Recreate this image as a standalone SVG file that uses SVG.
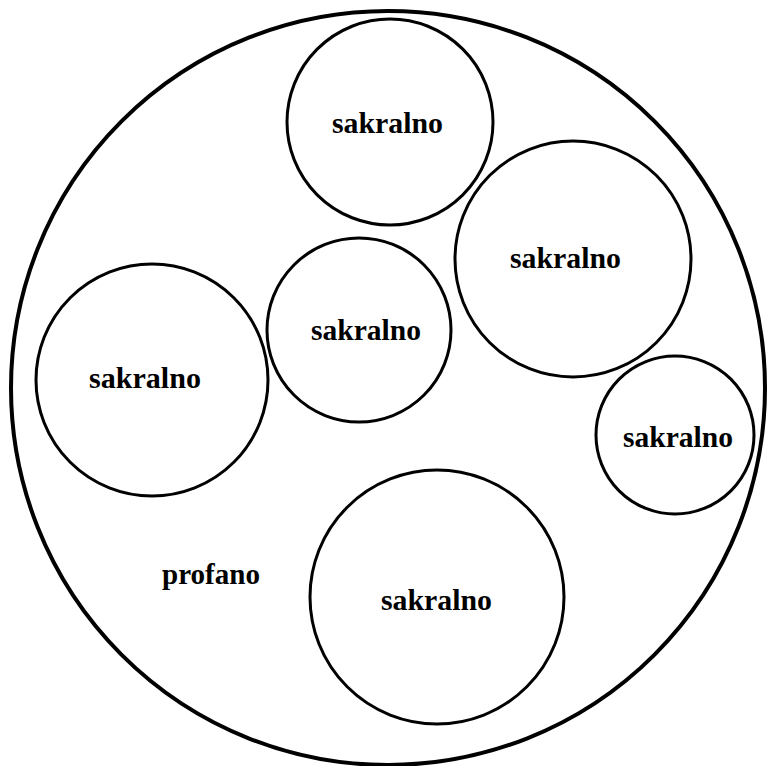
<svg xmlns="http://www.w3.org/2000/svg" width="770" height="766" viewBox="0 0 770 766">
<style>
.c{fill:none;stroke:#000;stroke-width:3}
.t{font-family:"Liberation Serif","Times New Roman",serif;font-weight:bold;font-size:29px;fill:#000}
</style>
<rect width="770" height="766" fill="#fff"/>
<g id="profano">
<circle cx="388" cy="388" r="377" fill="none" stroke="#000" stroke-width="4"/>
<text class="t" x="162" y="584" textLength="98" lengthAdjust="spacingAndGlyphs">profano</text>
</g>
<g id="s1"><circle class="c" cx="390" cy="122" r="103"/><text class="t" x="332" y="133" textLength="111" lengthAdjust="spacingAndGlyphs">sakralno</text></g>
<g id="s2"><circle class="c" cx="573" cy="259" r="118"/><text class="t" x="510" y="268" textLength="111" lengthAdjust="spacingAndGlyphs">sakralno</text></g>
<g id="s3"><circle class="c" cx="359" cy="330" r="92"/><text class="t" x="311" y="340" textLength="110" lengthAdjust="spacingAndGlyphs">sakralno</text></g>
<g id="s4"><circle class="c" cx="152" cy="380" r="116"/><text class="t" x="89" y="388" textLength="112" lengthAdjust="spacingAndGlyphs">sakralno</text></g>
<g id="s5"><circle class="c" cx="675" cy="435" r="79"/><text class="t" x="623" y="447" textLength="110" lengthAdjust="spacingAndGlyphs">sakralno</text></g>
<g id="s6"><circle class="c" cx="437" cy="597" r="127"/><text class="t" x="381" y="610" textLength="111" lengthAdjust="spacingAndGlyphs">sakralno</text></g>
<g id="connectors"/>
</svg>
